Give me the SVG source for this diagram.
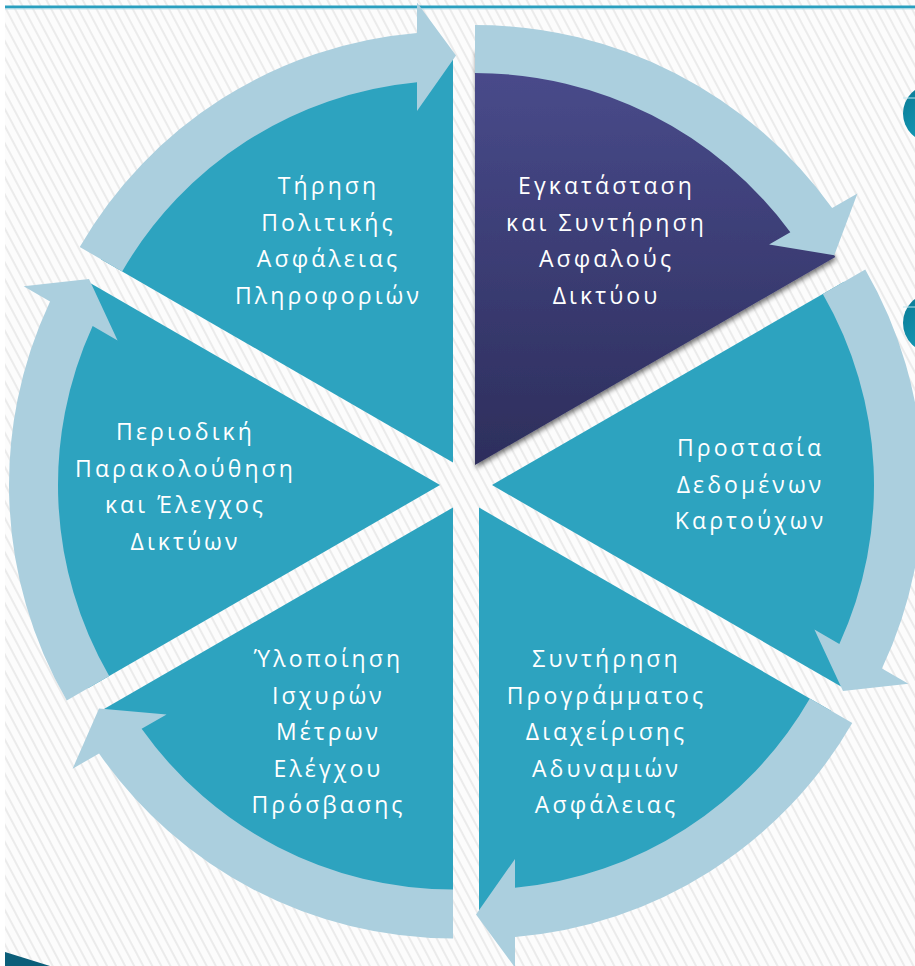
<svg xmlns="http://www.w3.org/2000/svg" width="915" height="966" viewBox="0 0 915 966">
  <defs>
    <pattern id="stripes" width="8" height="8" patternUnits="userSpaceOnUse" patternTransform="rotate(-28)">
      <rect width="8" height="8" fill="#fcfcfc"/>
      <rect x="0" y="0" width="2" height="8" fill="#ebebeb"/>
    </pattern>
    <linearGradient id="darkFill" x1="0" y1="0" x2="0" y2="1">
      <stop offset="0" stop-color="#4a4c8d"/>
      <stop offset="1" stop-color="#2d2e5c"/>
    </linearGradient>
    <linearGradient id="bulletFill" x1="0" y1="0" x2="1" y2="1">
      <stop offset="0" stop-color="#0a7893"/>
      <stop offset="1" stop-color="#19adc9"/>
    </linearGradient>
    <filter id="shadow" x="-10%" y="-10%" width="130%" height="130%">
      <feGaussianBlur in="SourceAlpha" stdDeviation="2.5"/>
      <feOffset dx="1" dy="3" result="blur"/>
      <feComponentTransfer><feFuncA type="linear" slope="0.55"/></feComponentTransfer>
      <feMerge><feMergeNode/><feMergeNode in="SourceGraphic"/></feMerge>
    </filter>
    <style>
      .seg { fill: #2da3bf; }
      .arrow { fill: #abcfde; }
      .label { font-family: "Open Sans", "DejaVu Sans", sans-serif; font-size: 23px; fill: #ffffff; text-anchor: middle; letter-spacing: 3.1px; }
    </style>
  </defs>

  <!-- page background -->
  <rect width="915" height="966" fill="#ffffff"/>
  <rect x="5" y="0" width="910" height="966" fill="url(#stripes)"/>
  <rect x="5" y="5.5" width="910" height="3" fill="#2a9fbf"/>
  <rect x="5" y="8.5" width="910" height="1" fill="#bfe2ec"/>

  <!-- bullet circles at the right edge -->
  <circle cx="932" cy="113.5" r="29" fill="url(#bulletFill)"/>
  <line x1="903" y1="98" x2="915" y2="98" stroke="#bfe6ef" stroke-width="1"/>
  <circle cx="933" cy="323" r="30" fill="url(#bulletFill)"/>
  <line x1="903" y1="307" x2="915" y2="307" stroke="#bfe6ef" stroke-width="1"/>

  <!-- corner shape bottom left -->
  <polygon points="5,952 50,966 5,966" fill="#0c5e79"/>

  <!-- segment 1: installation and maintenance (highlighted) -->
  <g id="seg-install">
    <path d="M475,465 L475,49 A416,416 0 0 1 835.27,257 Z" fill="url(#darkFill)" filter="url(#shadow)"/>
    <text class="label" x="606.5" y="194">Εγκατάσταση</text>
    <text class="label" x="606.5" y="230.5">και Συντήρηση</text>
    <text class="label" x="606.5" y="267">Ασφαλούς</text>
    <text class="label" x="606.5" y="303.5">Δικτύου</text>
  </g>

  <!-- segment 2: data protection -->
  <g id="seg-data">
    <path class="seg" d="M492,485 L844.04,281.75 A406.5,406.5 0 0 1 844.04,688.25 Z"/>
    <text class="label" x="750.5" y="456">Προστασία</text>
    <text class="label" x="750.5" y="492.5">Δεδομένων</text>
    <text class="label" x="750.5" y="529">Καρτούχων</text>
  </g>

  <!-- segment 3: vulnerability management -->
  <g id="seg-vuln">
    <path class="seg" d="M479,507.5 L831.04,710.75 A406.5,406.5 0 0 1 479,914 Z"/>
    <text class="label" x="606.5" y="667">Συντήρηση</text>
    <text class="label" x="606.5" y="703.5">Προγράμματος</text>
    <text class="label" x="606.5" y="740">Διαχείρισης</text>
    <text class="label" x="606.5" y="776.5">Αδυναμιών</text>
    <text class="label" x="606.5" y="813">Ασφάλειας</text>
  </g>

  <!-- segment 4: access control -->
  <g id="seg-access">
    <path class="seg" d="M453,507.5 L453,914 A406.5,406.5 0 0 1 100.96,710.75 Z"/>
    <text class="label" x="328.5" y="667">Ύλοποίηση</text>
    <text class="label" x="328.5" y="703.5">Ισχυρών</text>
    <text class="label" x="328.5" y="740">Μέτρων</text>
    <text class="label" x="328.5" y="776.5">Ελέγχου</text>
    <text class="label" x="328.5" y="813">Πρόσβασης</text>
  </g>

  <!-- segment 5: monitoring -->
  <g id="seg-monitor">
    <path class="seg" d="M440,485 L87.96,688.25 A406.5,406.5 0 0 1 87.96,281.75 Z"/>
    <text class="label" x="185.5" y="440">Περιοδική</text>
    <text class="label" x="185.5" y="476.5">Παρακολούθηση</text>
    <text class="label" x="185.5" y="513">και Έλεγχος</text>
    <text class="label" x="185.5" y="549.5">Δικτύων</text>
  </g>

  <!-- segment 6: security policy -->
  <g id="seg-policy">
    <path class="seg" d="M453,462.5 L100.96,259.25 A406.5,406.5 0 0 1 453,56 Z"/>
    <text class="label" x="328.5" y="194">Τήρηση</text>
    <text class="label" x="328.5" y="230.5">Πολιτικής</text>
    <text class="label" x="328.5" y="267">Ασφάλειας</text>
    <text class="label" x="328.5" y="303.5">Πληροφοριών</text>
  </g>

  <!-- curved arrows linking the segments clockwise -->
  <g id="connectors">
    <path class="arrow" d="M475,25 A440,440 0 0 1 832.14,207.99 L857.43,193.39 L834.27,255.27 L769.1,244.39 L790.34,232.13 A392,392 0 0 0 475,73 Z"/>
    <path class="arrow" d="M865.26,269.5 A431,431 0 0 1 881.95,668.57 L908.37,683.82 L842.97,691.1 L814.41,629.57 L839.35,643.97 A382,382 0 0 0 822.82,294 Z"/>
    <path class="arrow" d="M852.26,723 A431,431 0 0 1 515,936.99 L515,967.5 L476,914.5 L515,859 L515,887.8 A382,382 0 0 0 809.82,698.5 Z"/>
    <path class="arrow" d="M453,938.5 A431,431 0 0 1 99.05,753.43 L72.63,768.68 L99.03,708.4 L166.59,714.43 L141.65,728.83 A382,382 0 0 0 453,889.5 Z"/>
    <path class="arrow" d="M66.74,700.5 A431,431 0 0 1 50.05,301.43 L23.63,286.18 L89.03,278.9 L117.59,340.43 L92.65,326.03 A382,382 0 0 0 109.18,676 Z"/>
    <path class="arrow" d="M79.74,247 A431,431 0 0 1 417,33.01 L417,2.5 L456,55.5 L417,111 L417,82.2 A382,382 0 0 0 122.18,271.5 Z"/>
  </g>
</svg>
